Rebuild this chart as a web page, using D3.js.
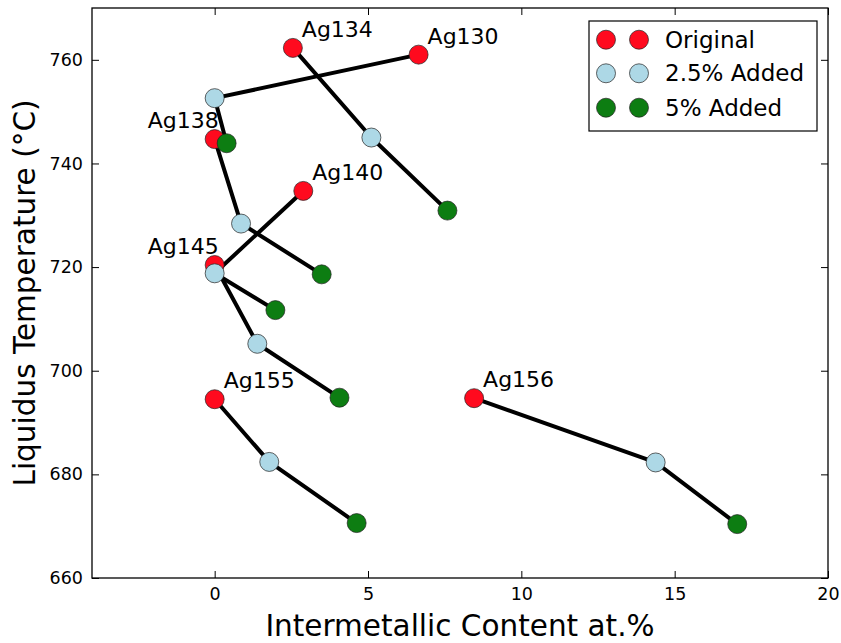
<!DOCTYPE html>
<html>
<head>
  <meta charset="utf-8">
  <script src="https://cdn.jsdelivr.net/npm/d3@7"></script>
  <style type="text/css">
    body {
      margin: 0;
      background: #fff;
      font-family: "DejaVu Sans", sans-serif;
    }
    .tick text {
      font-size: 17.5px;
      fill: #000;
    }
  </style>
</head>
<body>
  <svg id="chart" width="841" height="643"></svg>
  <script type="text/javascript">

  // alloy names and (x = intermetallic at.%, y = liquidus temp) per addition level
  const alloys = ['Ag130', 'Ag134', 'Ag138', 'Ag140', 'Ag145', 'Ag155', 'Ag156'];
  const origX = [6.65, 2.55, 0, 2.89, 0, 0, 8.46];
  const origY = [761.0, 762.3, 744.7, 734.7, 720.4, 694.5, 694.7];
  const added25X = [0, 5.11, 0.86, 0, 1.39, 1.78, 14.38];
  const added25Y = [752.6, 745.0, 728.4, 718.8, 705.2, 682.4, 682.3];
  const added5X = [0.39, 7.59, 3.49, 1.98, 4.07, 4.63, 17.04];
  const added5Y = [743.9, 730.9, 718.6, 711.7, 694.8, 670.6, 670.4];

  const seriesNames = ['Original', '2.5% Added', '5% Added'];
  const seriesColors = ['#ff0a1e', '#add8e6', '#0d7d12'];
  const labelLeft = ['Ag138', 'Ag145']; // labels drawn to the left of the point

  const xTicks = [0, 5, 10, 15, 20];
  const yTicks = [660, 680, 700, 720, 740, 760];

  const margin = {left: 92, right: 13, top: 8, bottom: 65};
  const W = 841, H = 643;

  const x = d3.scaleLinear().domain([-4, 20]).range([margin.left, W - margin.right]);
  const y = d3.scaleLinear().domain([660, 770]).range([H - margin.bottom, margin.top]);

  const svg = d3.select('#chart');

  const rows = alloys.map((name, i) => ({
    name: name,
    pts: [
      {x: origX[i], y: origY[i], s: 0},
      {x: added25X[i], y: added25Y[i], s: 1},
      {x: added5X[i], y: added5Y[i], s: 2}
    ]
  }));

  // axes with inward ticks on all sides
  const tickLen = 7;
  const xB = svg.append('g').attr('transform', `translate(0,${y(660)})`)
    .call(d3.axisBottom(x).tickValues(xTicks).tickSizeInner(-tickLen).tickSizeOuter(0).tickPadding(10));
  const xT = svg.append('g').attr('transform', `translate(0,${y(770)})`)
    .call(d3.axisTop(x).tickValues(xTicks).tickSizeInner(-tickLen).tickSizeOuter(0).tickFormat(''));
  const yL = svg.append('g').attr('transform', `translate(${x(-4)},0)`)
    .call(d3.axisLeft(y).tickValues(yTicks).tickSizeInner(-tickLen).tickSizeOuter(0).tickPadding(9));
  const yR = svg.append('g').attr('transform', `translate(${x(20)},0)`)
    .call(d3.axisRight(y).tickValues(yTicks).tickSizeInner(-tickLen).tickSizeOuter(0).tickFormat(''));
  [xB, xT, yL, yR].forEach((g) => {
    g.select('.domain').remove();
    g.selectAll('.tick line').attr('stroke', '#000').attr('stroke-width', 1);
  });
  xB.selectAll('.tick text').attr('font-family', 'DejaVu Sans');
  yL.selectAll('.tick text').attr('font-family', 'DejaVu Sans');

  svg.append('rect')
    .attr('x', x(-4)).attr('y', y(770))
    .attr('width', x(20) - x(-4)).attr('height', y(660) - y(770))
    .attr('fill', 'none').attr('stroke', '#000').attr('stroke-width', 1.3);

  // connecting lines
  const line = d3.line().x((d) => x(d.x)).y((d) => y(d.y));
  svg.append('g').selectAll('path').data(rows).enter().append('path')
    .attr('d', (d) => line(d.pts))
    .attr('fill', 'none')
    .attr('stroke', '#000')
    .attr('stroke-width', 4)
    .attr('stroke-linejoin', 'round');

  // markers, one layer per series
  [0, 1, 2].forEach((s) => {
    svg.append('g').selectAll('circle').data(rows.map((r) => r.pts[s])).enter().append('circle')
      .attr('cx', (d) => x(d.x))
      .attr('cy', (d) => y(d.y))
      .attr('r', 9.5)
      .attr('fill', seriesColors[s])
      .attr('stroke', '#222')
      .attr('stroke-width', 0.7);
  });

  // alloy labels
  svg.append('g').selectAll('text').data(rows).enter().append('text')
    .attr('x', (d) => x(d.pts[0].x) + (labelLeft.includes(d.name) ? 4 : 9))
    .attr('y', (d) => y(d.pts[0].y) - 11)
    .attr('text-anchor', (d) => labelLeft.includes(d.name) ? 'end' : 'start')
    .attr('font-size', 22)
    .text((d) => d.name);

  // axis titles
  svg.append('text')
    .attr('x', (x(-4) + x(20)) / 2).attr('y', 636)
    .attr('text-anchor', 'middle')
    .attr('font-size', 29.5)
    .text('Intermetallic Content at.%');
  svg.append('text')
    .attr('transform', `translate(35,${(y(660) + y(770)) / 2}) rotate(-90)`)
    .attr('text-anchor', 'middle')
    .attr('font-size', 29.5)
    .text('Liquidus Temperature (°C)');

  // legend
  const leg = svg.append('g');
  leg.append('rect')
    .attr('x', 589).attr('y', 21).attr('width', 228).attr('height', 110)
    .attr('fill', '#fff').attr('stroke', '#000').attr('stroke-width', 1.2);
  const legRows = [39.7, 73.3, 107.7];
  seriesNames.forEach((name, s) => {
    [606, 639].forEach((cx) => {
      leg.append('circle')
        .attr('cx', cx).attr('cy', legRows[s]).attr('r', 9.5)
        .attr('fill', seriesColors[s]).attr('stroke', '#222').attr('stroke-width', 0.7);
    });
    leg.append('text')
      .attr('x', 665).attr('y', legRows[s])
      .attr('dominant-baseline', 'central')
      .attr('font-size', 23)
      .text(name);
  });
  </script>
</body>
</html>
